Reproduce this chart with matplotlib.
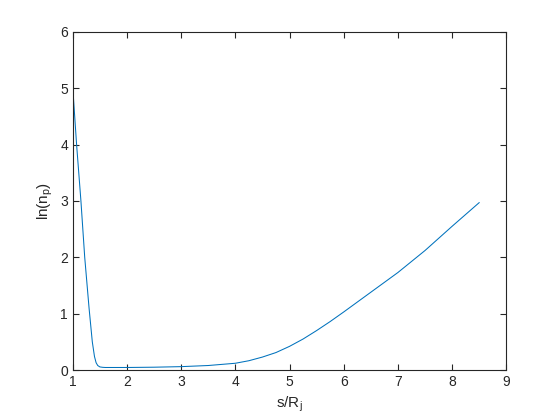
import matplotlib
matplotlib.use('Agg')
import matplotlib.pyplot as plt

# values
s = [1.0, 1.07, 1.15, 1.22, 1.3, 1.36, 1.4, 1.43, 1.46, 1.5, 1.55, 1.6, 2.0, 2.5, 3.0,
     3.5, 4.0, 4.25, 4.5, 4.75, 5.0, 5.25, 5.5, 5.75, 6.0, 6.5, 7.0, 7.5, 8.0, 8.5]
ln_np = [5.0, 4.0, 3.0, 2.0, 1.1, 0.5, 0.24, 0.13, 0.08, 0.055, 0.048, 0.045, 0.045, 0.05, 0.06,
         0.08, 0.12, 0.165, 0.23, 0.31, 0.42, 0.55, 0.7, 0.86, 1.03, 1.38, 1.73, 2.12, 2.55, 2.97]

plt.rcParams['font.family'] = ['Liberation Sans', 'DejaVu Sans']
plt.rcParams['mathtext.default'] = 'regular'

fig = plt.figure(figsize=(5.6, 4.2), dpi=100)
ax = fig.add_axes([0.130, 0.119, 0.774, 0.805])

ax.plot(s, ln_np, color='#0072BD', linewidth=0.75)

ax.set_xlim(1, 9)
ax.set_ylim(0, 6)
ax.set_xticks(range(1, 10))
ax.set_yticks(range(0, 7))

grey = '#262626'
for sp in ax.spines.values():
    sp.set_color(grey)
    sp.set_linewidth(0.8)
ax.tick_params(direction='in', top=True, right=True, length=4, width=0.8,
               colors=grey, labelsize=10, labelcolor=grey)

ax.set_xlabel('s/R$_j$', fontsize=11, color=grey)
ax.set_ylabel('ln(n$_p$)', fontsize=11, color=grey)

fig.savefig('out.png', dpi=100)
